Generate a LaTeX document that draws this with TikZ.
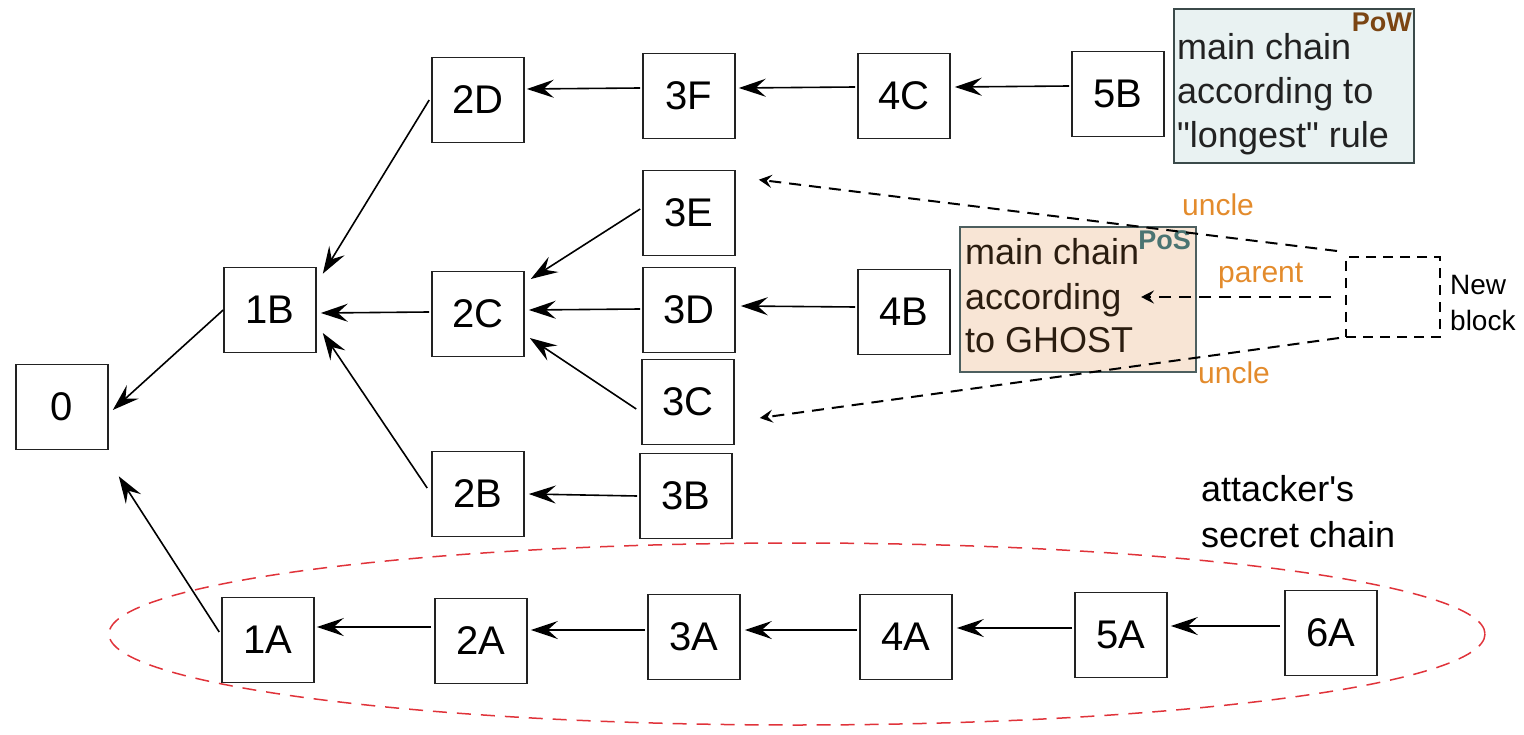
\documentclass[tikz,border=0pt]{standalone}
\usepackage{fontspec}
\setmainfont{Liberation Sans}[Ligatures=TeXOff]
\usetikzlibrary{arrows.meta,calc}
\definecolor{boxline}{HTML}{222222}
\definecolor{powfill}{HTML}{E9F2F2}
\definecolor{powline}{HTML}{3B4A4A}
\definecolor{powtag}{HTML}{7B4513}
\definecolor{posfill}{HTML}{F8E5D5}
\definecolor{posline}{HTML}{4D5F5F}
\definecolor{postag}{HTML}{4A7472}
\definecolor{postext}{HTML}{2B1D10}
\definecolor{reltext}{HTML}{E38B2C}
\definecolor{secret}{HTML}{E0333A}
\tikzset{
  blk/.style={draw=boxline, line width=1.6pt, minimum width=92pt, minimum height=85pt,
    inner sep=0pt, font=\fontsize{40}{48}\selectfont},
  arr/.style={line width=1.6pt, -{Stealth[length=27pt,width=18pt,inset=10pt]}},
  ref/.style={line width=2pt, dash pattern=on 12pt off 8pt,
    -{Stealth[length=13pt,width=13pt,inset=5pt]}},
  big/.style={anchor=base west, inner sep=0pt, font=\fontsize{36}{44}\selectfont},
  tag/.style={anchor=base east, inner sep=0pt, font=\fontsize{27}{30}\selectfont\bfseries},
  rel/.style={anchor=base west, inner sep=0pt, text=reltext, font=\fontsize{30}{36}\selectfont},
}
\begin{document}
\begin{tikzpicture}[x=1pt,y=-1pt]
\useasboundingbox (0,0) rectangle (1524,735);

% the attacker's hidden branch
\draw[secret, line width=1.5pt, dash pattern=on 14pt off 10pt] (797,634) ellipse [x radius=688, y radius=91];

% blocks
\node[blk] (b0)  at (62,407)   {0};
\node[blk] (b1B) at (270,310)  {1B};
\node[blk] (b2D) at (478,100)  {2D};
\node[blk] (b3F) at (689,96)   {3F};
\node[blk] (b4C) at (904,96)   {4C};
\node[blk] (b5B) at (1118,94)  {5B};
\node[blk] (b2C) at (478,314)  {2C};
\node[blk] (b3E) at (689,213)  {3E};
\node[blk] (b3D) at (689,310)  {3D};
\node[blk] (b3C) at (688,402)  {3C};
\node[blk] (b4B) at (904,312)  {4B};
\node[blk] (b2B) at (478,494)  {2B};
\node[blk] (b3B) at (686,496)  {3B};
\node[blk] (b1A) at (268,640)  {1A};
\node[blk] (b2A) at (481,641)  {2A};
\node[blk] (b3A) at (694,637)  {3A};
\node[blk] (b4A) at (906,637)  {4A};
\node[blk] (b5A) at (1121,635) {5A};
\node[blk] (b6A) at (1331,633) {6A};

% PoW note
\node[draw=powline, fill=powfill, line width=1.8pt, minimum width=240pt, minimum height=154pt, inner sep=0pt] (pow) at (1294,86) {};
\node[big, text=boxline] (pow1) at (1177,60)  {main chain};
\node[big, text=boxline] (pow2) at (1177,104) {according to};
\node[big, text=boxline] (pow3) at (1177,148) {"longest" rule};
\node[tag, text=powtag] (powt) at (1412,32) {PoW};

% PoS note
\node[draw=posline, fill=posfill, line width=1.8pt, minimum width=236pt, minimum height=145pt, inner sep=0pt] (pos) at (1078,299.5) {};
\node[big, text=postext] (pos1) at (965,265) {main chain};
\node[big, text=postext] (pos2) at (965,310) {according};
\node[big, text=postext] (pos3) at (965,353) {to GHOST};
\node[tag, text=postag] (post) at (1191,250) {PoS};
\coordinate (parentend) at (1141,297);

% new block
\node[draw=black, line width=2pt, dash pattern=on 10pt off 7pt, minimum width=94pt, minimum height=80pt, inner sep=0pt] (nb) at (1393,297) {};
\node[anchor=base west, inner sep=0pt, font=\fontsize{28}{34}\selectfont] (nb1) at (1450,295) {New};
\node[anchor=base west, inner sep=0pt, font=\fontsize{28}{34}\selectfont] (nb2) at (1450,331) {block};

% relation labels
\node[rel] (u1) at (1182,216) {uncle};
\node[rel] (pa) at (1218,283) {parent};
\node[rel] (u2) at (1198,384) {uncle};

% secret chain label
\node[big] (sc1) at (1201,501) {attacker's};
\node[big] (sc2) at (1201,547) {secret chain};

% links to the genesis block
\draw[arr] (b1B.west) -- ([xshift=4pt,yshift=-3pt]b0.east);
\draw[arr] ([xshift=-2pt,yshift=8pt]b1A.west) -- ([xshift=10pt,yshift=-26pt]b0.south east);

% main tree
\draw[arr] ([xshift=-2pt]b2D.west) -- ([xshift=6pt,yshift=-7pt]b1B.north east);
\draw[arr] ([xshift=-2pt,yshift=2pt]b2C.west) -- ([xshift=4pt,yshift=-3pt]b1B.east);
\draw[arr] ([xshift=-4pt,yshift=6pt]b2B.west) -- ([xshift=6pt,yshift=-23pt]b1B.east);
\draw[arr] ([xshift=-2pt,yshift=8pt]b3F.west) -- ([xshift=2pt,yshift=11pt]b2D.east);
\draw[arr] ([xshift=-2pt,yshift=9pt]b4C.west) -- ([xshift=3pt,yshift=8pt]b3F.east);
\draw[arr] ([xshift=-2pt,yshift=8pt]b5B.west) -- ([xshift=4pt,yshift=9pt]b4C.east);
\draw[arr] ([xshift=-2pt,yshift=4pt]b3E.west) -- ([xshift=6pt,yshift=35pt]b2C.east);
\draw[arr] ([xshift=-2pt,yshift=1pt]b3D.west) -- ([xshift=4pt,yshift=4pt]b2C.east);
\draw[arr] ([xshift=-5pt,yshift=-7pt]b3C.west) -- ([xshift=5pt,yshift=-24pt]b2C.east);
\draw[arr] ([xshift=-2pt,yshift=5pt]b4B.west) -- ([xshift=5pt,yshift=4pt]b3D.east);
\draw[arr] ([xshift=-2pt]b3B.west) -- ([xshift=4pt]b2B.east);

% secret chain links
\draw[arr] ([xshift=-3pt,yshift=14pt]b2A.west) -- ([xshift=2pt,yshift=13pt]b1A.east);
\draw[arr] ([xshift=-2pt,yshift=7pt]b3A.west) -- ([xshift=3pt,yshift=11pt]b2A.east);
\draw[arr] ([xshift=-2pt,yshift=7pt]b4A.west) -- ([xshift=4pt,yshift=7pt]b3A.east);
\draw[arr] ([xshift=-2pt,yshift=7pt]b5A.west) -- ([xshift=4pt,yshift=9pt]b4A.east);
\draw[arr] ([xshift=-4pt,yshift=7pt]b6A.west) -- ([xshift=3pt,yshift=9pt]b5A.east);

% references of the new block
\draw[ref] ([xshift=-8pt,yshift=5pt]nb.north west) -- ([xshift=23pt,yshift=-10pt]b3E.north east);
\draw[ref] ([xshift=-14pt]nb.west) -- (parentend);
\draw[ref] ([xshift=-6pt]nb.south west) -- ([xshift=25pt,yshift=-16pt]b3C.east);
\end{tikzpicture}
\end{document}
